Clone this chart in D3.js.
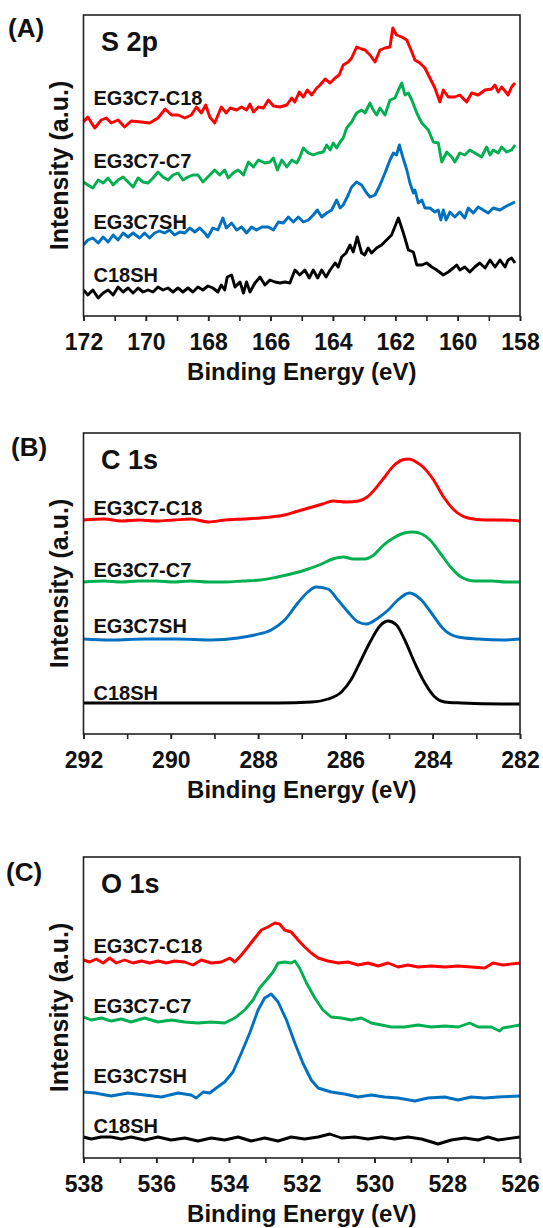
<!doctype html>
<html lang="en">
<head>
  <meta charset="UTF-8">
  <title>XPS spectra</title>
  <script src="https://d3js.org/d3.v7.min.js"></script>
  <style>
    body { margin: 0; background: #fff; }
    text { font-family: "Liberation Sans", Arial, sans-serif; font-weight: bold; fill: #111; }
  </style>
</head>
<body>
  <div id="myDiv"></div>
  <script type="text/javascript">
    // series names, top to bottom
    var seriesNames = ["EG3C7-C18", "EG3C7-C7", "EG3C7SH", "C18SH"];
    var seriesColors = ["#ff0000", "#00b050", "#0070c0", "#000000"];

    // S 2p spectra: [binding energy (eV), intensity (a.u.)]
    var s2pC18mix = [[172.00,194],[171.86,199],[171.64,188],[171.43,196],[171.27,198],[171.11,193],[170.89,196],[170.68,189],[170.47,195],[170.15,194],[169.88,193],[169.61,198],[169.38,207],[169.18,201],[168.97,201],[168.75,198],[168.54,201],[168.38,209],[168.22,203],[168.08,211],[167.95,199],[167.79,193],[167.58,209],[167.42,203],[167.30,208],[167.09,206],[166.93,209],[166.77,206],[166.66,212],[166.55,204],[166.39,209],[166.23,208],[166.07,216],[165.91,210],[165.70,209],[165.48,211],[165.32,218],[165.22,214],[165.08,224],[164.95,219],[164.82,226],[164.68,221],[164.52,228],[164.41,231],[164.25,237],[164.09,233],[163.93,238],[163.80,241],[163.67,251],[163.51,254],[163.40,258],[163.24,269],[163.08,267],[162.97,266],[162.81,261],[162.65,254],[162.49,266],[162.33,268],[162.17,269],[162.08,288],[161.96,281],[161.79,279],[161.63,276],[161.47,264],[161.37,256],[161.21,253],[161.05,248],[160.89,238],[160.73,228],[160.57,214],[160.46,226],[160.30,219],[160.09,219],[159.93,221],[159.71,214],[159.55,223],[159.34,221],[159.12,226],[158.91,227],[158.80,231],[158.70,224],[158.59,229],[158.48,225],[158.38,221],[158.27,229],[158.16,233]];
    var s2pC7mix = [[172.00,134],[171.86,131],[171.70,128],[171.53,136],[171.37,133],[171.21,138],[171.05,131],[170.89,136],[170.73,139],[170.57,134],[170.41,129],[170.25,138],[170.09,134],[169.93,133],[169.77,138],[169.61,144],[169.45,139],[169.29,136],[169.13,141],[168.97,143],[168.81,136],[168.65,139],[168.49,141],[168.33,141],[168.17,134],[167.95,141],[167.79,146],[167.63,141],[167.47,146],[167.36,138],[167.20,143],[167.04,146],[166.87,141],[166.71,154],[166.55,149],[166.39,156],[166.18,153],[166.02,154],[165.91,158],[165.78,146],[165.64,156],[165.48,149],[165.32,156],[165.16,153],[165.06,159],[164.95,168],[164.79,163],[164.63,161],[164.47,163],[164.31,164],[164.20,171],[164.09,166],[163.99,173],[163.88,168],[163.77,174],[163.67,178],[163.56,188],[163.40,194],[163.24,203],[163.08,206],[162.97,203],[162.81,213],[162.71,206],[162.60,201],[162.49,208],[162.33,201],[162.17,216],[162.01,218],[161.90,226],[161.79,233],[161.69,221],[161.58,223],[161.47,216],[161.31,203],[161.15,193],[160.94,186],[160.78,174],[160.62,173],[160.51,154],[160.35,164],[160.19,159],[160.09,154],[159.93,163],[159.77,161],[159.61,166],[159.45,163],[159.23,159],[159.07,169],[158.96,161],[158.86,166],[158.70,163],[158.59,169],[158.43,164],[158.27,166],[158.16,171]];
    var s2pEG3 = [[172.00,71],[171.86,76],[171.70,78],[171.53,73],[171.37,79],[171.21,74],[171.05,81],[170.89,76],[170.73,83],[170.57,79],[170.41,83],[170.20,78],[170.04,83],[169.88,78],[169.72,83],[169.56,85],[169.40,83],[169.24,86],[169.08,81],[168.91,84],[168.75,83],[168.59,88],[168.43,84],[168.27,88],[168.11,83],[168.01,79],[167.85,88],[167.69,86],[167.53,98],[167.42,88],[167.25,93],[167.09,86],[166.93,89],[166.77,83],[166.61,89],[166.45,86],[166.28,89],[166.07,89],[165.91,86],[165.75,94],[165.59,93],[165.43,99],[165.27,94],[165.11,99],[164.95,94],[164.79,96],[164.63,101],[164.50,106],[164.36,99],[164.20,103],[164.04,106],[163.88,116],[163.77,108],[163.67,111],[163.51,121],[163.40,129],[163.24,134],[163.08,131],[162.92,123],[162.81,119],[162.65,121],[162.49,131],[162.33,143],[162.17,156],[162.06,163],[161.96,161],[161.87,171],[161.76,159],[161.63,146],[161.53,133],[161.42,123],[161.37,126],[161.26,113],[161.15,116],[161.05,108],[160.89,108],[160.73,104],[160.62,106],[160.54,96],[160.46,106],[160.37,96],[160.25,104],[160.09,99],[159.93,104],[159.77,98],[159.66,108],[159.50,103],[159.34,109],[159.18,106],[159.02,103],[158.86,108],[158.64,106],[158.43,110],[158.16,114]];
    var s2pC18 = [[172.00,26],[171.86,21],[171.70,26],[171.53,18],[171.37,23],[171.21,26],[171.05,21],[170.89,29],[170.73,24],[170.57,28],[170.41,23],[170.25,28],[170.09,24],[169.93,26],[169.77,24],[169.61,29],[169.45,26],[169.29,28],[169.13,24],[168.97,28],[168.81,24],[168.65,28],[168.49,24],[168.33,29],[168.17,26],[168.01,30],[167.85,28],[167.69,24],[167.58,31],[167.47,26],[167.39,39],[167.25,41],[167.14,29],[166.98,34],[166.87,23],[166.77,34],[166.66,24],[166.50,33],[166.34,39],[166.18,31],[166.02,36],[165.86,34],[165.70,33],[165.54,34],[165.38,33],[165.22,46],[165.06,41],[164.90,46],[164.76,38],[164.63,46],[164.49,38],[164.36,46],[164.22,39],[164.09,46],[163.93,53],[163.83,49],[163.72,59],[163.58,63],[163.45,71],[163.35,64],[163.22,79],[163.08,63],[162.98,61],[162.87,68],[162.76,63],[162.60,68],[162.44,71],[162.28,76],[162.12,81],[161.90,98],[161.74,83],[161.58,66],[161.42,64],[161.31,51],[161.15,51],[160.99,53],[160.83,49],[160.67,46],[160.46,41],[160.30,44],[160.14,48],[160.03,51],[159.93,46],[159.77,49],[159.61,44],[159.45,49],[159.29,53],[159.12,48],[158.96,56],[158.80,49],[158.64,56],[158.48,49],[158.38,56],[158.27,58],[158.16,53]];

    // C 1s spectra
    var c1sC18mix = [[292.00,214],[291.52,215],[291.13,213],[290.73,214],[290.33,213],[289.94,214],[289.54,215],[289.14,212],[288.75,214],[288.35,215],[287.95,216],[287.71,217],[287.40,219],[287.16,222],[286.76,227],[286.52,230],[286.29,233],[285.97,232],[285.70,233],[285.50,237],[285.30,246],[285.10,257],[284.90,268],[284.70,274],[284.54,275],[284.38,272],[284.22,267],[283.98,254],[283.75,237],[283.51,224],[283.19,216],[282.79,214],[282.40,214],[282.00,213]];
    var c1sC7mix = [[292.00,152],[291.52,153],[291.13,152],[290.73,153],[290.33,153],[289.94,152],[289.54,153],[289.14,152],[288.75,152],[288.35,153],[287.95,154],[287.56,157],[287.16,161],[286.92,164],[286.60,169],[286.29,175],[286.05,177],[285.81,175],[285.57,175],[285.35,179],[285.15,188],[284.90,196],[284.65,201],[284.45,202],[284.25,200],[284.06,194],[283.83,181],[283.59,167],[283.35,157],[283.03,153],[282.63,153],[282.32,152],[282.00,152]];
    var c1sEG3 = [[292.00,95],[291.36,94],[290.60,95],[289.84,95],[289.07,94],[288.46,96],[288.08,99],[287.70,104],[287.39,114],[287.09,131],[286.86,142],[286.67,147],[286.40,145],[286.17,134],[285.94,122],[285.71,112],[285.52,110],[285.25,116],[285.02,124],[284.80,134],[284.53,141],[284.26,134],[284.03,121],[283.73,104],[283.42,97],[282.96,95],[282.39,94],[282.00,95]];
    var c1sC18 = [[292.00,31],[290.60,31],[289.07,31],[287.54,31],[286.78,32],[286.40,35],[286.09,42],[285.86,55],[285.64,74],[285.41,94],[285.21,108],[285.02,113],[284.83,109],[284.64,94],[284.41,71],[284.18,51],[283.95,37],[283.73,32],[283.34,31],[282.39,30],[282.00,30]];

    // O 1s spectra
    var o1sC18mix = [[538.00,198],[537.83,196],[537.65,199],[537.46,195],[537.28,200],[537.10,195],[536.87,198],[536.64,195],[536.41,197],[536.18,195],[535.95,197],[535.72,195],[535.49,197],[535.22,196],[534.99,193],[534.76,198],[534.49,195],[534.21,196],[533.98,200],[533.84,196],[533.66,203],[533.48,211],[533.29,220],[533.11,228],[532.93,231],[532.74,235],[532.61,234],[532.47,228],[532.29,226],[532.10,218],[531.92,211],[531.74,205],[531.55,200],[531.28,197],[531.00,195],[530.73,196],[530.45,193],[530.18,195],[529.90,192],[529.63,195],[529.35,191],[529.08,193],[528.80,191],[528.44,192],[528.07,191],[527.70,192],[527.34,191],[526.97,190],[526.74,195],[526.47,193],[526.00,195]];
    var o1sC7mix = [[538.00,141],[537.79,138],[537.51,140],[537.24,137],[536.96,139],[536.69,136],[536.32,140],[535.95,136],[535.59,138],[535.22,136],[534.85,135],[534.49,136],[534.12,135],[533.84,140],[533.57,148],[533.34,158],[533.16,170],[532.97,178],[532.79,186],[532.65,195],[532.47,196],[532.29,195],[532.19,197],[532.06,190],[531.87,175],[531.64,160],[531.42,148],[531.19,141],[530.91,140],[530.64,138],[530.36,140],[530.09,135],[529.81,133],[529.54,131],[529.17,131],[528.80,133],[528.44,131],[528.07,132],[527.70,131],[527.38,135],[527.15,131],[526.79,131],[526.56,127],[526.47,130],[526.00,133]];
    var o1sEG3 = [[538.00,66],[537.69,65],[537.24,62],[536.78,65],[536.32,63],[535.86,61],[535.40,65],[535.04,63],[534.90,60],[534.71,66],[534.53,65],[534.35,70],[534.12,76],[533.89,86],[533.66,105],[533.43,125],[533.20,148],[533.02,160],[532.84,164],[532.65,156],[532.42,138],[532.19,115],[531.97,95],[531.74,78],[531.55,70],[531.19,66],[530.82,64],[530.45,61],[530.09,63],[529.72,61],[529.35,60],[528.89,57],[528.53,60],[528.07,61],[527.70,58],[527.34,61],[526.97,60],[526.60,61],[526.00,62]];
    var o1sC18 = [[538.00,21],[537.79,19],[537.51,21],[537.24,21],[536.96,19],[536.69,21],[536.32,18],[535.95,21],[535.59,18],[535.22,20],[534.85,17],[534.49,20],[534.12,18],[533.75,21],[533.39,17],[533.02,20],[532.65,17],[532.29,21],[531.92,19],[531.55,21],[531.23,24],[530.91,20],[530.54,21],[530.18,19],[529.81,21],[529.45,19],[529.08,21],[528.71,19],[528.25,14],[527.89,18],[527.52,20],[527.15,18],[526.88,21],[526.60,18],[526.00,21]];

    // x axis tick labels
    var s2pTicks = [172, 170, 168, 166, 164, 162, 160, 158];
    var c1sTicks = [292, 290, 288, 286, 284, 282];
    var o1sTicks = [538, 536, 534, 532, 530, 528, 526];

    var panels = [
      { letter: "(A)", title: "S 2p", top: 15, ticks: s2pTicks, series: [s2pC18mix, s2pC7mix, s2pEG3, s2pC18],
        labelY: [90, 153, 214, 267], letterX: 8, letterY: 22, curve: d3.curveLinear },
      { letter: "(B)", title: "C 1s", top: 433, ticks: c1sTicks, series: [c1sC18mix, c1sC7mix, c1sEG3, c1sC18],
        labelY: [82, 144, 200, 267], letterX: 11, letterY: 23, curve: d3.curveMonotoneX },
      { letter: "(C)", title: "O 1s", top: 857, ticks: o1sTicks, series: [o1sC18mix, o1sC7mix, o1sEG3, o1sC18],
        labelY: [96, 156, 226, 276], letterX: 6, letterY: 24, curve: d3.curveLinear }
    ];

    var W = 543, H = 1228;
    var left = 83.5, right = 520, plotH = 301;

    var svg = d3.select("#myDiv").append("svg")
      .attr("width", W)
      .attr("height", H);

    panels.forEach(function(p, pi) {
      var bottom = p.top + plotH;
      var xScale = d3.scaleLinear()
        .domain([d3.max(p.ticks), d3.min(p.ticks)])
        .range([left, right]);
      var yScale = d3.scaleLinear()
        .domain([0, plotH])
        .range([bottom, p.top]);

      var g = svg.append("g");

      // clip so lines stay in the frame
      g.append("clipPath").attr("id", "clip" + pi)
        .append("rect")
        .attr("x", left).attr("y", p.top)
        .attr("width", right - left).attr("height", plotH);

      var line = d3.line()
        .x(function(d) { return xScale(d[0]); })
        .y(function(d) { return yScale(d[1]); })
        .curve(p.curve);

      p.series.forEach(function(s, i) {
        g.append("path")
          .datum(s)
          .attr("clip-path", "url(#clip" + pi + ")")
          .attr("d", line)
          .attr("fill", "none")
          .attr("stroke", seriesColors[i])
          .attr("stroke-width", 2.9)
          .attr("stroke-linejoin", "round");

        g.append("text")
          .attr("x", 93.5)
          .attr("y", p.top + p.labelY[i])
          .style("font-size", "20px")
          .text(seriesNames[i]);
      });

      // minor ticks every 1 eV
      var minor = d3.range(d3.min(p.ticks), d3.max(p.ticks) + 1, 1);
      g.append("g")
        .attr("transform", "translate(0," + bottom + ")")
        .call(d3.axisBottom(xScale).tickValues(minor).tickSize(5).tickFormat(""))
        .call(function(a) {
          a.select(".domain").remove();
          a.selectAll("line").attr("stroke", "#222").attr("stroke-width", 1.6);
        });

      // labelled ticks
      g.append("g")
        .attr("transform", "translate(0," + bottom + ")")
        .call(d3.axisBottom(xScale).tickValues(p.ticks).tickSize(5).tickPadding(13).tickFormat(d3.format("d")))
        .call(function(a) {
          a.select(".domain").remove();
          a.selectAll("line").attr("stroke", "#222").attr("stroke-width", 1.6);
          a.selectAll("text")
            .attr("fill", "#111")
            .style("font-size", "23px")
            .style("font-family", "'Liberation Sans', Arial, sans-serif")
            .style("font-weight", "bold");
        });

      // frame
      g.append("rect")
        .attr("x", left).attr("y", p.top)
        .attr("width", right - left).attr("height", plotH)
        .attr("fill", "none")
        .attr("stroke", "#222")
        .attr("stroke-width", 1.6);

      g.append("text")
        .attr("x", p.letterX)
        .attr("y", p.top + p.letterY)
        .style("font-size", "26px")
        .text(p.letter);

      g.append("text")
        .attr("x", 101)
        .attr("y", p.top + 36)
        .style("font-size", "27px")
        .text(p.title);

      g.append("text")
        .attr("x", (left + right) / 2)
        .attr("y", bottom + 64)
        .attr("text-anchor", "middle")
        .style("font-size", "24px")
        .text("Binding Energy (eV)");

      g.append("text")
        .attr("transform", "translate(68," + (p.top + plotH / 2) + ") rotate(-90)")
        .attr("text-anchor", "middle")
        .style("font-size", "25px")
        .text("Intensity (a.u.)");
    });
  </script>
</body>
</html>
